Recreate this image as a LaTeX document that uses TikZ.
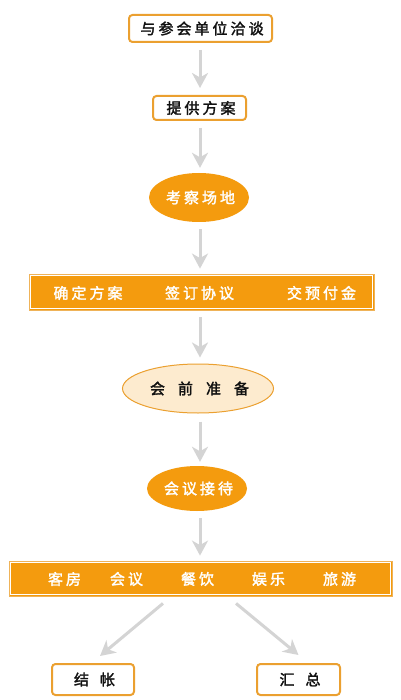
\documentclass[tikz,border=0pt]{standalone}
\usepackage{fontspec}
\usetikzlibrary{arrows.meta,shapes.geometric,calc}
\newfontfamily\cjk{Noto Sans CJK SC}[LetterSpace=20,AutoFakeBold=2]
\newcommand\ks{\kern-3pt}
\definecolor{orng}{HTML}{F49B0E}
\definecolor{bord}{HTML}{EBA030}
\definecolor{lite}{HTML}{FDEBCF}
\definecolor{arr}{HTML}{D4D4D4}
\definecolor{ink}{HTML}{111111}
\tikzset{
  txt/.style={font=\cjk\bfseries\fontsize{15}{15}\selectfont},
  whitebox/.style={txt,rectangle,rounded corners=3.5pt,draw=bord,line width=2pt,fill=white,inner sep=0pt,text=ink},
  orngell/.style={txt,ellipse,fill=orng,inner sep=0pt,text=white},
  liteell/.style={txt,ellipse,fill=lite,draw=bord,line width=1pt,inner sep=0pt,text=ink},
  barbox/.style={rectangle,fill=orng,draw=bord!80,line width=0.8pt,inner sep=0pt},
  bartext/.style={txt,inner sep=0pt,text=white},
  flow/.style={draw=arr,line width=3pt,-{Stealth[length=15pt,width=16pt,inset=4.5pt]}},
}
\begin{document}
\begin{tikzpicture}[x=1pt,y=-1pt]
\useasboundingbox[fill=white] (0,0) rectangle (400,700);
\coordinate (ax) at (200,0);
\node[whitebox,minimum width=143pt,minimum height=27pt] (b1) at (200.5,28.5) {与参会单位洽谈\ks};
\node[whitebox,minimum width=93pt,minimum height=24pt] (b2) at (199.5,108) {提供方案\ks};
\node[orngell,minimum width=100pt,minimum height=49pt] (e1) at (199,197.5) {考察场地\ks};
\node[barbox,minimum width=345pt,minimum height=36pt] (bar1) at (201.5,292) {};
\draw[white,line width=1pt] ($(bar1.north west)+(2,2)$) rectangle ($(bar1.south east)+(-2,-2)$);
\node[bartext] (t11) at (86.5,293) {确定方案\ks};
\node[bartext] (t12) at (198,293) {签订协议\ks};
\node[bartext] (t13) at (320,293) {交预付金\ks};
\node[liteell,minimum width=151pt,minimum height=49pt] (e2) at (198,388.5) {会\hspace{13pt}前\hspace{13pt}准\hspace{13pt}备\ks};
\node[orngell,minimum width=100pt,minimum height=45pt] (e3) at (197,488.5) {会议接待\ks};
\node[barbox,minimum width=383pt,minimum height=35pt] (bar2) at (200.5,578.5) {};
\draw[white,line width=1pt] ($(bar2.north west)+(2,2)$) rectangle ($(bar2.south east)+(-2,-2)$);
\node[bartext] (t21) at (63,579) {客房\ks};
\node[bartext] (t22) at (125,579) {会议\ks};
\node[bartext] (t23) at (196,579) {餐饮\ks};
\node[bartext] (t24) at (267,579) {娱乐\ks};
\node[bartext] (t25) at (338,579) {旅游\ks};
\node[whitebox,minimum width=82pt,minimum height=31pt] (b3) at (93,679.5) {结\hspace{11pt}帐\ks};
\node[whitebox,minimum width=83pt,minimum height=31pt] (b4) at (298.5,679.5) {汇\hspace{11pt}总\ks};
\draw[flow,shorten <=7pt,shorten >=7pt] (b1.south -| ax) -- (b2.north -| ax);
\draw[flow,shorten <=7pt,shorten >=5pt] (b2.south -| ax) -- (e1.north -| ax);
\draw[flow,shorten <=7pt,shorten >=5pt] (e1.south -| ax) -- (bar1.north -| ax);
\draw[flow,shorten <=7pt,shorten >=6pt] (bar1.south -| ax) -- (e2.north -| ax);
\draw[flow,shorten <=8pt,shorten >=4pt] (e2.south -| ax) -- (e3.north -| ax);
\draw[flow,shorten <=7pt,shorten >=5pt] (e3.south -| ax) -- (bar2.north -| ax);
\coordinate (l1) at ($(bar2.south)+(-37.5,7)$);
\coordinate (l2) at ($(b3.north)+(7,-7)$);
\coordinate (r1) at ($(bar2.south)+(35.5,7)$);
\coordinate (r2) at ($(b4.north)+(0,-8)$);
\draw[flow] (l1) -- (l2);
\draw[flow] (r1) -- (r2);
\end{tikzpicture}
\end{document}
